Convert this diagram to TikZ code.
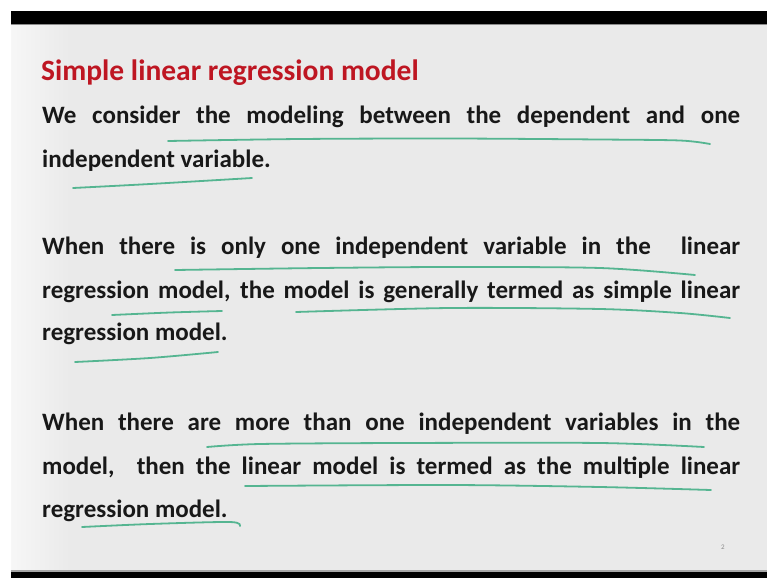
\documentclass[tikz,border=0pt]{standalone}
\usepackage{fontspec}
\setmainfont{Carlito}
\usepackage{tikz}
\usetikzlibrary{positioning}
\definecolor{ink}{HTML}{181818}
\definecolor{slide}{HTML}{EAEAEA}
\definecolor{headred}{HTML}{BE1622}
\definecolor{pen}{HTML}{45B088}
\definecolor{pgnum}{HTML}{8A8A8A}
\tikzset{
  ttl/.style={anchor=base west, inner sep=0pt, font=\fontsize{29.5}{30}\selectfont\bfseries, text=headred},
  txt/.style={anchor=base west, inner sep=0pt, font=\fontsize{25}{26}\selectfont\bfseries, text=ink},
  ul/.style={draw=pen, line width=1.8pt, line cap=round, line join=round, opacity=0.9},
}
\newcommand{\jline}[1]{\makebox[698pt][s]{#1}}
\begin{document}
\begin{tikzpicture}[x=1pt, y=-1pt]
    \useasboundingbox (0,0) rectangle (767,578);
    \fill[white] (0,0) rectangle (767,578);
    \fill[slide] (11,24) rectangle (767,572);
    \shade[left color=white!60!slide, right color=slide] (11,24) rectangle (70,572);
    \fill[black] (11,11) rectangle (767,24);
    \fill[black!45] (11,24) rectangle (767,25.5);
    \fill[black!35] (11,570) rectangle (767,572);
    \fill[black] (11,572) rectangle (767,578);
    \node[ttl] (title) at (41,80) {Simple linear regression model};
    \node[txt] (l1) at (42,123) {\jline{We consider the modeling between the dependent and one}};
    \node[txt] (l2) at (42,167) {independent variable.};
    \node[txt] (l3) at (42,254) {\jline{When there is only one independent variable in the\ \ linear}};
    \node[txt] (l4) at (42,298) {\jline{regression model, the model is generally termed as simple linear}};
    \node[txt] (l5) at (42,340) {regression model.};
    \node[txt] (l6) at (42,430) {\jline{When there are more than one independent variables in the}};
    \node[txt] (l7) at (42,474) {\jline{model,\ \ then the linear model is termed as the multiple linear}};
    \node[txt] (l8) at (42,517) {regression model.};
    \node[anchor=center, inner sep=0pt, font=\fontsize{7}{7}\selectfont, text=pgnum] (pg) at (723,547) {2};
    \draw[ul] plot[smooth] coordinates {(168,141) (300,139) (450,138.5) (600,139.5) (680,140.5) (710,144)};
    \draw[ul] plot[smooth] coordinates {(73,188) (150,184) (252,178)};
    \draw[ul] plot[smooth] coordinates {(175,270) (320,268) (450,267) (600,268) (695,275)};
    \draw[ul] plot[smooth] coordinates {(112,315) (170,312.5) (222,311)};
    \draw[ul] plot[smooth] coordinates {(296,312) (450,308) (600,309) (680,313) (730,318)};
    \draw[ul] plot[smooth] coordinates {(75,362) (150,358) (218,352)};
    \draw[ul] plot[smooth] coordinates {(207,447) (260,444) (400,443) (600,443) (704,447)};
    \draw[ul] plot[smooth] coordinates {(245,486) (450,485) (600,487) (711,490)};
    \draw[ul] plot[smooth] coordinates {(82,527) (150,524) (230,522) (240,526)};
\end{tikzpicture}
\end{document}
